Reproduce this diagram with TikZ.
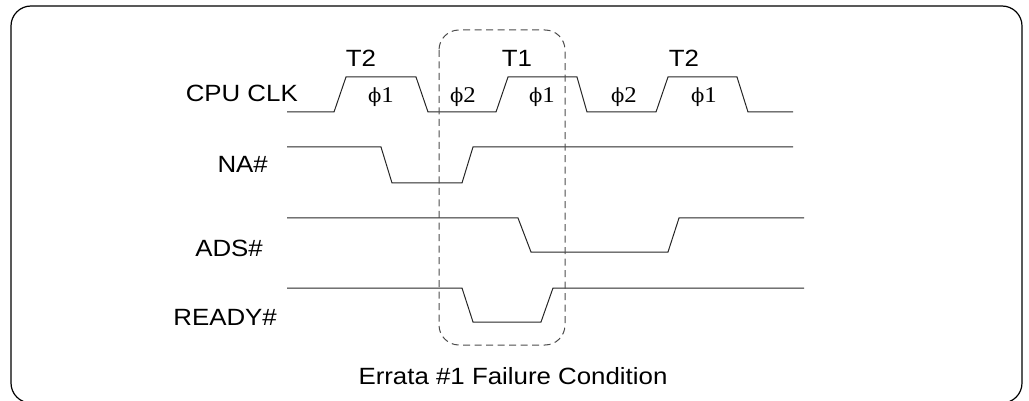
\documentclass[tikz,border=0pt]{standalone}
\usepackage{fontspec}
\setmainfont{Liberation Sans}[FakeStretch=1.1]
\newfontfamily\tms{Liberation Serif}[FakeStretch=1.1]
\newfontfamily\dvs{DejaVu Serif}
\newcommand{\phisym}{{\dvs\fontsize{19.5}{23}\selectfont ϕ}}
\begin{document}
\begin{tikzpicture}[x=1pt,y=-1pt,
  wave/.style={line width=1pt,draw=black!85,line join=miter},
  sig/.style={inner sep=0pt,anchor=base east,font=\fontsize{23.5}{28}\selectfont},
  cyc/.style={inner sep=0pt,anchor=base,font=\fontsize{23.5}{28}\selectfont},
  ph/.style={inner sep=0pt,anchor=base,font=\tms\fontsize{22.5}{26}\selectfont},
  frame/.style={line width=1.2pt,draw=black,rounded corners=20pt},
  errbox/.style={line width=1pt,draw=black!70,dash pattern=on 7pt off 4.5pt,rounded corners=20pt}]
\useasboundingbox (0,0) rectangle (1029,401);
\begin{scope}
\clip (0,0) rectangle (1029,401);
\draw[frame] (11,6) rectangle (1022,403);
\end{scope}
% signal labels
\node[sig] (cpu) at (298,102) {CPU CLK};
\node[sig] (na) at (268,173) {NA\#};
\node[sig] (ads) at (263,256) {ADS\#};
\node[sig] (rdy) at (277,325) {READY\#};
% cycle labels
\node[cyc] (t2a) at (361,67) {T2};
\node[cyc] (t1) at (517,67) {T1};
\node[cyc] (t2b) at (684,67) {T2};
% phase labels
\node[ph] (p1a) at (381,103) {\phisym1};
\node[ph] (p2a) at (463,103) {\phisym2};
\node[ph] (p1b) at (542,103) {\phisym1};
\node[ph] (p2b) at (624,103) {\phisym2};
\node[ph] (p1c) at (704,103) {\phisym1};
% waveforms
\draw[wave] (287,112) -- (334,112) -- (346,77) -- (416,77) -- (428,112) -- (496,112) -- (508,77) -- (577,77) -- (587,112) -- (656,112) -- (668,77) -- (737,77) -- (748,112) -- (793,112);
\draw[wave] (287,147) -- (381,147) -- (392,183) -- (462,183) -- (473,147) -- (793,147);
\draw[wave] (287,218) -- (518,218) -- (531,252) -- (668,252) -- (679,218) -- (804,218);
\draw[wave] (287,288) -- (462,288) -- (473,322) -- (541,322) -- (553,288) -- (804,288);
% errata box
\draw[errbox] (439,30) rectangle (565,345);
\node[cyc] (cap) at (513,384) {Errata \#1 Failure Condition};
\end{tikzpicture}
\end{document}
